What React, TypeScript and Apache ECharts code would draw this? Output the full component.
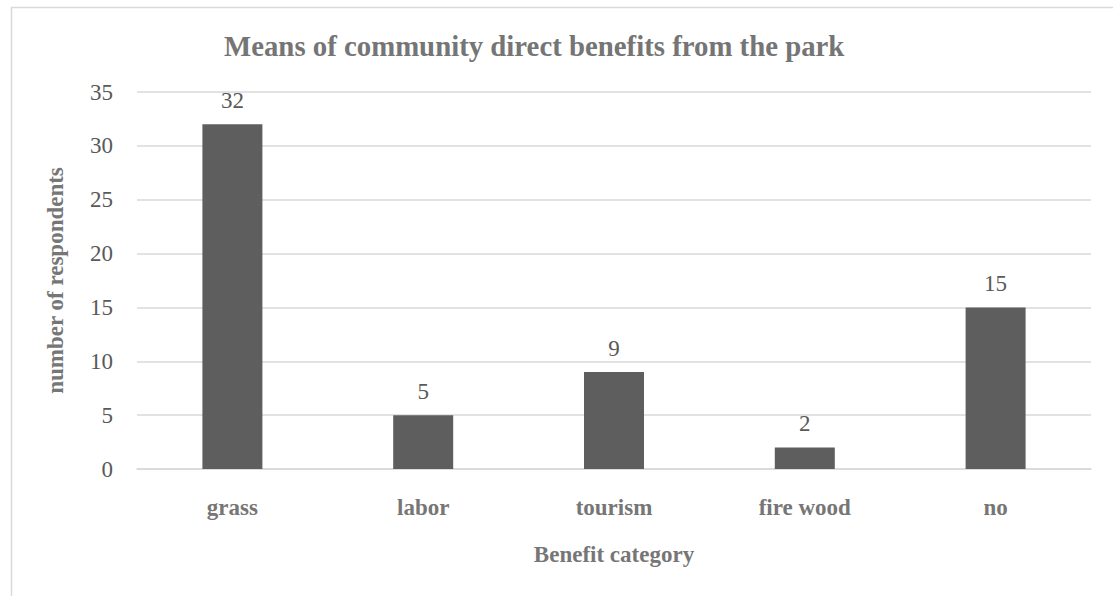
import React, { useEffect, useRef } from "react";
import * as echarts from "echarts";

const categories = ["grass", "labor", "tourism", "fire wood", "no"];
const respondents = [32, 5, 9, 2, 15];
const yTicks = { min: 0, max: 35, interval: 5 };

const titleText = "Means of community direct benefits from the park";
const xName = "Benefit category";
const yName = "number of respondents";

const FONT = "Liberation Serif, Times New Roman, serif";

export default function App() {
  const ref = useRef<HTMLDivElement>(null);
  useEffect(() => {
    if (!ref.current) return;
    const chart = echarts.init(ref.current, null, { renderer: "svg" });
    chart.setOption({
      animation: false,
      backgroundColor: "#ffffff",
      textStyle: { fontFamily: FONT },
      title: {
        text: titleText,
        left: 219,
        top: 26,
        textStyle: { fontFamily: FONT, fontSize: 28.8, fontWeight: "bold", color: "#757575" },
      },
      graphic: [
        {
          type: "rect",
          left: 9,
          top: 5,
          shape: { x: 0, y: 0, width: 1200, height: 700 },
          style: { fill: "none", stroke: "#d9d9d9", lineWidth: 1.5 },
          silent: true,
        },
      ],
      grid: { left: 137, top: 92, width: 954, height: 377, containLabel: false },
      xAxis: {
        type: "category",
        data: categories,
        name: xName,
        nameLocation: "middle",
        nameGap: 74,
        nameTextStyle: { fontFamily: FONT, fontSize: 23, fontWeight: "bold", color: "#767676" },
        axisTick: { show: false },
        axisLine: { lineStyle: { color: "#d9d9d9", width: 1.5 } },
        axisLabel: { margin: 27, fontFamily: FONT, fontSize: 23, fontWeight: "bold", color: "#767676" },
      },
      yAxis: {
        type: "value",
        min: yTicks.min,
        max: yTicks.max,
        interval: yTicks.interval,
        name: yName,
        nameLocation: "middle",
        nameGap: 70,
        nameTextStyle: { fontFamily: FONT, fontSize: 23, fontWeight: "bold", color: "#767676" },
        axisLine: { show: false },
        axisTick: { show: false },
        axisLabel: { margin: 24, fontFamily: FONT, fontSize: 23, color: "#595959" },
        splitLine: { lineStyle: { color: "#d9d9d9", width: 1.5 } },
      },
      series: [
        {
          type: "bar",
          data: respondents,
          barWidth: 60,
          itemStyle: { color: "#5e5e5e" },
          label: {
            show: true,
            position: "top",
            distance: 12,
            fontFamily: FONT,
            fontSize: 23,
            color: "#595959",
          },
        },
      ],
    });
    return () => chart.dispose();
  }, []);
  return (
    <div
      ref={ref}
      style={{ position: "absolute", left: 0, top: 0, width: 1113, height: 596 }}
    />
  );
}
